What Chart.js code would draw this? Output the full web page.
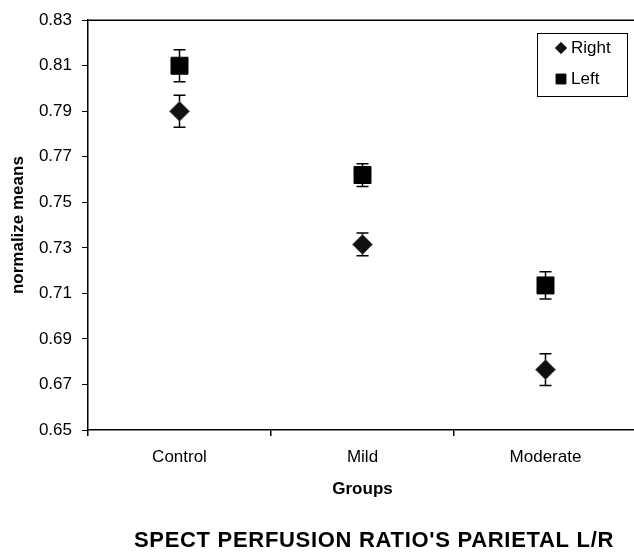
<!DOCTYPE html>
<html>
<head>
<meta charset="utf-8">
<script src="https://cdn.jsdelivr.net/npm/chart.js@4.4.0/dist/chart.umd.min.js"></script>
<style>
    html, body { margin: 0; padding: 0; background: #fff; overflow: hidden; }
    #wrap { width: 650px; height: 554px; }
</style>
</head>
<body>
<div id="wrap"><canvas id="chart" width="650" height="554"></canvas></div>
<script>
// ---- data ----
const groups = ['Control', 'Mild', 'Moderate'];
const rightMeans = [0.790, 0.7315, 0.6765];
const rightErr = [0.007, 0.005, 0.007];
const leftMeans = [0.810, 0.762, 0.7135];
const leftErr = [0.007, 0.005, 0.006];
const yTicks = [0.65, 0.67, 0.69, 0.71, 0.73, 0.75, 0.77, 0.79, 0.81, 0.83];
const captionText = "SPECT PERFUSION RATIO'S PARIETAL L/R";

const FONT = '"Liberation Sans", Arial, Helvetica, sans-serif';

// error bars under the markers
const errorBars = {
    id: 'errorBars',
    beforeDatasetsDraw(chart) {
        const ctx = chart.ctx;
        const x = chart.scales.x;
        const y = chart.scales.y;
        ctx.save();
        ctx.strokeStyle = '#000';
        ctx.lineWidth = 1.5;
        chart.data.datasets.forEach(ds => {
            ds.data.forEach((v, i) => {
                const px = x.getPixelForValue(i);
                const top = y.getPixelForValue(v + ds.errors[i]);
                const bot = y.getPixelForValue(v - ds.errors[i]);
                ctx.beginPath();
                ctx.moveTo(px, top); ctx.lineTo(px, bot);
                ctx.moveTo(px - 6, top); ctx.lineTo(px + 6, top);
                ctx.moveTo(px - 6, bot); ctx.lineTo(px + 6, bot);
                ctx.stroke();
            });
        });
        ctx.restore();
    }
};

// top frame line, boxed legend and caption under the chart
const decorations = {
    id: 'decorations',
    afterDraw(chart) {
        const ctx = chart.ctx;
        const area = chart.chartArea;
        ctx.save();
        ctx.strokeStyle = '#000';
        ctx.lineWidth = 1.5;
        ctx.beginPath();
        ctx.moveTo(area.left, area.top);
        ctx.lineTo(area.right, area.top);
        ctx.stroke();

        // legend
        ctx.lineWidth = 1;
        ctx.strokeRect(537.5, 33.5, 90, 63);
        const items = [
            { ds: chart.data.datasets[0], y: 48, r: 6 },
            { ds: chart.data.datasets[1], y: 79, r: 7 }
        ];
        ctx.font = '17px ' + FONT;
        ctx.textBaseline = 'middle';
        items.forEach(it => {
            ctx.fillStyle = it.ds.backgroundColor;
            ctx.strokeStyle = it.ds.borderColor;
            ctx.lineWidth = 1;
            Chart.helpers.drawPoint(ctx, { pointStyle: it.ds.pointStyle, radius: it.r, borderWidth: 1 }, 561, it.y);
            ctx.fillStyle = '#000';
            ctx.fillText(it.ds.label, 571, it.y);
        });

        // caption
        ctx.font = 'bold 22px ' + FONT;
        ctx.letterSpacing = '0.7px';
        ctx.textAlign = 'center';
        ctx.textBaseline = 'alphabetic';
        ctx.fillStyle = '#000';
        ctx.fillText(captionText, 374, 547);
        ctx.restore();
    }
};

new Chart(document.getElementById('chart'), {
    type: 'line',
    data: {
        labels: groups,
        datasets: [
            {
                label: 'Right',
                data: rightMeans,
                errors: rightErr,
                showLine: false,
                pointStyle: 'rectRot',
                pointRadius: 10,
                pointHoverRadius: 10,
                backgroundColor: '#111',
                borderColor: '#666',
                pointBorderWidth: 1
            },
            {
                label: 'Left',
                data: leftMeans,
                errors: leftErr,
                showLine: false,
                pointStyle: 'rect',
                pointRadius: 12,
                pointHoverRadius: 12,
                backgroundColor: '#000',
                borderColor: '#000',
                pointBorderWidth: 1
            }
        ]
    },
    options: {
        responsive: false,
        animation: false,
        events: [],
        layout: { padding: { left: 8, top: 17, right: 3, bottom: 54 } },
        plugins: {
            legend: { display: false },
            tooltip: { enabled: false }
        },
        scales: {
            x: {
                type: 'category',
                offset: true,
                grid: { offset: true, drawOnChartArea: false, drawTicks: true, tickLength: 6, color: '#000', lineWidth: 1.5 },
                border: { color: '#000', width: 1.5 },
                ticks: { color: '#000', font: { family: FONT, size: 17 }, padding: 11, maxRotation: 0 },
                title: { display: true, text: 'Groups', color: '#000', font: { family: FONT, size: 17, weight: 'bold' }, padding: { top: 0, bottom: 0 } },
                afterFit(scale) { scale.height = 70; }
            },
            y: {
                min: yTicks[0],
                max: yTicks[yTicks.length - 1],
                afterBuildTicks(scale) { scale.ticks = yTicks.map(v => ({ value: v })); },
                grid: { drawOnChartArea: false, drawTicks: true, tickLength: 6, color: '#000', lineWidth: 1 },
                border: { color: '#000', width: 1.5 },
                ticks: { color: '#000', font: { family: FONT, size: 17 }, padding: 10, callback: v => v.toFixed(2) },
                title: { display: true, text: 'normalize means', color: '#000', font: { family: FONT, size: 17, weight: 'bold' }, padding: { top: 0, bottom: 0 } },
                afterFit(scale) { scale.width = 80; }
            }
        }
    },
    plugins: [errorBars, decorations]
});
</script>
</body>
</html>
